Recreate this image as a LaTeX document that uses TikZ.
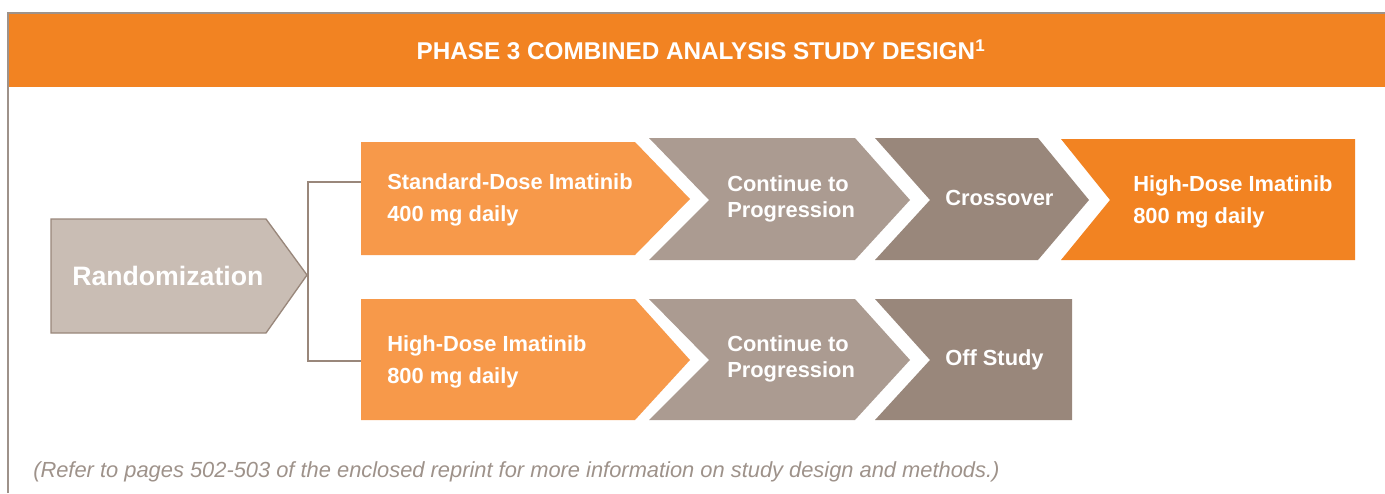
\documentclass[tikz,border=0pt]{standalone}
\usepackage{fontspec}
\setmainfont{Liberation Sans}
\usepackage{tikz}
\usetikzlibrary{positioning}

\definecolor{hdrorange}{RGB}{242,131,34}
\definecolor{lightorange}{RGB}{247,153,74}
\definecolor{taupe}{RGB}{171,155,145}
\definecolor{darktaupe}{RGB}{153,135,123}
\definecolor{paletaupe}{RGB}{201,189,180}
\definecolor{framegray}{RGB}{158,146,138}

\tikzset{
  steptext/.style={text=white, font=\bfseries\fontsize{16.4}{24}\selectfont,
    align=left, anchor=west, inner sep=0pt},
  midtext/.style={steptext, font=\bfseries\fontsize{16.4}{19.5}\selectfont},
  link/.style={draw=darktaupe, line width=1.5pt},
}

\begin{document}
\begin{tikzpicture}[x=0.75pt,y=0.75pt,yscale=-1,xscale=1]
  \useasboundingbox (0,0) rectangle (1385,493);
  % header band and frame
  \fill [hdrorange] (9,14) rectangle (1385,87);
  \draw [framegray, line width=1.5pt] (8,493) -- (8,13) -- (1385,13);
  \node [text=white, font=\bfseries\fontsize{18.2}{22}\selectfont] (title) at (701,50)
        {PHASE 3 COMBINED ANALYSIS STUDY DESIGN\textsuperscript{1}};

  \filldraw [fill=paletaupe, draw=darktaupe, line width=1pt]
    (51,219) -- (266,219) -- (307,275) -- (266,333) -- (51,333) -- cycle;
  \node [steptext, font=\bfseries\fontsize{20}{24}\selectfont] (rand) at (72,276) {Randomization};

  % upper arm
  \fill [lightorange] (361,142) -- (635,142) -- (690,199) -- (635,255) -- (361,255) -- cycle;
  \fill [taupe] (649,138) -- (855,138) -- (910,200) -- (855,260) -- (649,260) -- (709,200) -- cycle;
  \fill [darktaupe] (875,138) -- (1038,138) -- (1089,200) -- (1038,260) -- (875,260) -- (930,200) -- cycle;
  \fill [hdrorange] (1061,139) -- (1355,139) -- (1355,260) -- (1061,260) -- (1110,200) -- cycle;
  \node [steptext] (sd) at (387,200) {Standard-Dose Imatinib\\400 mg daily};
  \node [midtext] (cont1) at (727,199) {Continue to\\Progression};
  \node [steptext] (cross) at (945,198) {Crossover};
  \node [steptext] (hd1) at (1133,202) {High-Dose Imatinib\\800 mg daily};

  % lower arm
  \fill [lightorange] (361,299) -- (635,299) -- (690,360) -- (635,420) -- (361,420) -- cycle;
  \fill [taupe] (649,299) -- (855,299) -- (910,360) -- (855,420) -- (649,420) -- (709,360) -- cycle;
  \fill [darktaupe] (875,299) -- (1072,299) -- (1072,420) -- (875,420) -- (930,360) -- cycle;
  \node [steptext] (hd2) at (387,362) {High-Dose Imatinib\\800 mg daily};
  \node [midtext] (cont2) at (727,359) {Continue to\\Progression};
  \node [steptext] (off) at (945,360) {Off Study};

  % bracket from randomization to both arms
  \coordinate (randtip) at (308,275);
  \coordinate (sdin) at (361,182);
  \coordinate (hdin) at (361,361);
  \draw [link] (sdin) -| (randtip) |- (hdin);

  \node [anchor=west, inner sep=0pt, text=framegray, font=\itshape\fontsize{16.4}{19}\selectfont] (note)
        at (33,472) {(Refer to pages 502-503 of the enclosed reprint for more information on study design and methods.)};
\end{tikzpicture}
\end{document}
